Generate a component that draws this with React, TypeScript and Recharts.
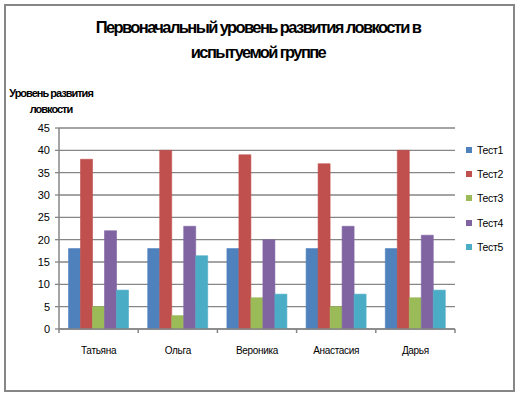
import React from "react";
import { BarChart, Bar, XAxis, YAxis, CartesianGrid } from "recharts";

const categories = ["Татьяна", "Ольга", "Вероника", "Анастасия", "Дарья"];
const seriesNames = ["Тест1", "Тест2", "Тест3", "Тест4", "Тест5"];
const test1 = [18, 18, 18, 18, 18];
const test2 = [38, 40, 39, 37, 40];
const test3 = [5, 3, 7, 5, 7];
const test4 = [22, 23, 20, 23, 21];
const test5 = [8.7, 16.4, 7.8, 7.8, 8.7];
const yTicks = [0, 5, 10, 15, 20, 25, 30, 35, 40, 45];
const colors = ["#4F81BD", "#C0504D", "#9BBB59", "#8064A2", "#4BACC6"];

const seriesValues = [test1, test2, test3, test4, test5];
const data = categories.map((name, i) => {
  const row: Record<string, string | number> = { name };
  seriesNames.forEach((s, j) => {
    row[s] = seriesValues[j][i];
  });
  return row;
});

const FONT = "'Liberation Sans', Arial, sans-serif";
const GRID = "#868686";
const X_TICK_SIZE = 4;
const X_TICK_MARGIN = 14;

const XTick = (props: any) => {
  const { x, y, payload, index, visibleTicksCount, width } = props;
  const half =
    payload && typeof payload.offset === "number" && payload.offset > 0
      ? payload.offset
      : width / visibleTicksCount / 2;
  const axisY = y - X_TICK_SIZE - X_TICK_MARGIN;
  const isLast = index === visibleTicksCount - 1;
  return (
    <g>
      <line x1={x - half} x2={x - half} y1={axisY} y2={axisY + X_TICK_SIZE} stroke={GRID} strokeWidth={1.5} />
      {isLast && (
        <line x1={x + half} x2={x + half} y1={axisY} y2={axisY + X_TICK_SIZE} stroke={GRID} strokeWidth={1.5} />
      )}
      <text x={x} y={y} dy="0.71em" textAnchor="middle" fontFamily={FONT} fontSize={10} letterSpacing={-0.3} fill="#000">
        {payload.value}
      </text>
    </g>
  );
};

export default function App() {
  return (
    <div style={{ position: "absolute", left: 0, top: 0, width: 516, height: 395, background: "#fff" }}>
      <div
        style={{
          position: "absolute",
          left: 4,
          top: 4,
          width: 511,
          height: 388,
          boxSizing: "border-box",
          border: `2px solid ${GRID}`,
        }}
      />
      <div
        style={{
          position: "absolute",
          left: 0,
          top: 15,
          width: 516,
          textAlign: "center",
          fontFamily: FONT,
          fontWeight: "bold",
          fontSize: 16.5,
          letterSpacing: -1.6,
          lineHeight: "25px",
          color: "#000",
        }}
      >
        Первоначальный уровень развития ловкости в
        <br />
        испытуемой группе
      </div>
      <div
        style={{
          position: "absolute",
          left: 6,
          top: 85,
          width: 90,
          textAlign: "center",
          fontFamily: FONT,
          fontWeight: "bold",
          fontSize: 11,
          letterSpacing: -1,
          lineHeight: "16px",
          color: "#000",
        }}
      >
        Уровень развития
        <br />
        ловкости
      </div>
      <BarChart
        width={516}
        height={395}
        data={data}
        margin={{ top: 128, right: 61, bottom: 36, left: 19 }}
        barCategoryGap="12%"
        barGap={0}
        style={{ position: "absolute", left: 0, top: 0 }}
      >
        <CartesianGrid vertical={false} stroke={GRID} strokeWidth={1.3} />
        <XAxis
          dataKey="name"
          height={30}
          axisLine={{ stroke: GRID, strokeWidth: 1.5 }}
          tickLine={false}
          tickSize={X_TICK_SIZE}
          tickMargin={X_TICK_MARGIN}
          tick={<XTick />}
          interval={0}
        />
        <YAxis
          width={40}
          domain={[0, 45]}
          ticks={yTicks}
          interval={0}
          axisLine={{ stroke: GRID, strokeWidth: 1.5 }}
          tickLine={{ stroke: GRID, strokeWidth: 1.3 }}
          tickSize={4}
          tickMargin={5}
          tick={{ fontFamily: FONT, fontSize: 11, fill: "#000" }}
        />
        {seriesNames.map((s, i) => (
          <Bar
            key={s}
            dataKey={s}
            fill={colors[i]}
            stroke={colors[i]}
            strokeWidth={0.6}
            isAnimationActive={false}
          />
        ))}
      </BarChart>
      <div
        style={{
          position: "absolute",
          left: 466,
          top: 138,
          fontFamily: FONT,
          fontSize: 10.5,
          color: "#000",
        }}
      >
        {seriesNames.map((s, i) => (
          <div key={s} style={{ display: "flex", alignItems: "center", height: 24.2 }}>
            <div style={{ width: 6, height: 6, background: colors[i], marginRight: 5 }} />
            <span style={{ letterSpacing: -0.3 }}>{s}</span>
          </div>
        ))}
      </div>
    </div>
  );
}
